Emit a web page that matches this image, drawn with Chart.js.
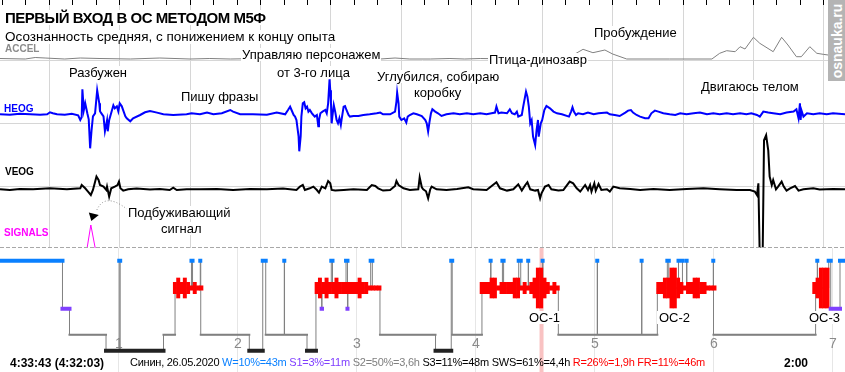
<!DOCTYPE html>
<html lang="ru">
<head>
<meta charset="UTF-8">
<title>Первый вход в ОС методом М5Ф</title>
<style>
    body { margin: 0; background: #fff; }
    #wrap { position: relative; width: 845px; height: 372px; overflow: hidden;
            font-family: Arial, "Liberation Sans", sans-serif; }
    canvas { position: absolute; left: 0; }
    #sig { top: 0; }
    #hyp { top: 248px; }
    .t { position: absolute; white-space: nowrap; font-size: 13px; line-height: 13px;
         color: #000; background: #fff; padding: 0 1px; }
    .title { font-size: 15px; line-height: 15px; font-weight: bold; letter-spacing: -0.5px; }
    .sub { font-size: 13.5px; line-height: 14px; }
    .ch { position: absolute; font-weight: bold; font-size: 10px; line-height: 10px; white-space: nowrap; }
    .foot { position: absolute; white-space: nowrap; font-size: 11px; line-height: 11px; letter-spacing: -0.25px; }
    .bold12 { font-size: 12px; line-height: 12px; font-weight: bold; letter-spacing: 0; }
    #badge { position: absolute; left: 828px; top: 0; width: 17px; height: 81px; background: #b4b4b4; }
    #badge span { position: absolute; left: 50%; top: 50%; transform: translate(-50%, -50%) rotate(-90deg);
                  color: #fff; font-weight: bold; font-size: 14px; line-height: 14px; white-space: nowrap; }
</style>
</head>
<body>

<div id="wrap">
    <canvas id="sig" width="845" height="248"></canvas>
    <canvas id="hyp" width="845" height="124"></canvas>

    <div class="t title" style="left:4px;top:10px">ПЕРВЫЙ ВХОД В ОС МЕТОДОМ М5Ф</div>
    <div class="t sub" style="left:4px;top:30px">Осознанность средняя, с понижением к концу опыта</div>

    <div class="ch" style="left:5px;top:44px;color:#8c8c8c">ACCEL</div>
    <div class="ch" style="left:4px;top:104px;color:#0000ff">HEOG</div>
    <div class="ch" style="left:5px;top:167px;color:#000">VEOG</div>
    <div class="ch" style="left:4px;top:228px;color:#ff00ff">SIGNALS</div>

    <div class="t" style="left:68px;top:66px">Разбужен</div>
    <div class="t" style="left:180px;top:90px">Пишу фразы</div>
    <div class="t" style="left:241px;top:48px">Управляю персонажем</div>
    <div class="t" style="left:276px;top:66px">от 3-го лица</div>
    <div class="t" style="left:376px;top:70px">Углубился, собираю</div>
    <div class="t" style="left:413px;top:86px">коробку</div>
    <div class="t" style="left:488px;top:53px">Птица-динозавр</div>
    <div class="t" style="left:593px;top:26px">Пробуждение</div>
    <div class="t" style="left:700px;top:80px">Двигаюсь телом</div>
    <div class="t" style="left:127px;top:206px">Подбуживающий</div>
    <div class="t" style="left:160px;top:222px">сигнал</div>

    <div class="t" style="left:527px;top:311px;padding:0 2px">ОС-1</div>
    <div class="t" style="left:657px;top:311px;padding:0 2px">ОС-2</div>
    <div class="t" style="left:807px;top:311px;padding:0 2px">ОС-3</div>

    <div class="foot bold12" style="left:10px;top:357px">4:33:43 (4:32:03)</div>
    <div class="foot" style="left:130px;top:357px">Синин, 26.05.2020 <span style="color:#0a80ff">W=10%=43m</span> <span style="color:#8040ff">S1=3%=11m</span> <span style="color:#808080">S2=50%=3,6h</span> S3=11%=48m SWS=61%=4,4h <span style="color:#ff0000">R=26%=1,9h FR=11%=46m</span></div>
    <div class="foot bold12" style="left:784px;top:357px">2:00</div>

    <div id="badge"><span>osnauka.ru</span></div>
</div>

<script src="https://cdn.jsdelivr.net/npm/chart.js"></script>
<script>
    // Upper panel: a 2 minute window of the record starting at 4:32:03
    const windowStart = [4, 32, 3];
    const windowLength = 120; // seconds

    // Channels as [seconds from window start, amplitude]
    const accel = [
        [0,0.5],[3.6,0],[5.0,1.5],[6.4,1],[9.2,0],[11.4,1],[14.2,0.5],[18.5,0],[22.7,1],[27.0,0],
        [29.8,0.5],[32.7,0],[36.9,0.5],[42.6,0],[48.3,0.5],[54.0,0],[56.1,1],[58.2,0],[61.1,0],[63.9,0.5],
        [66.0,0],[68.2,0.5],[73.8,0],[80.2,0],[81.4,4],[82.8,9.7],[84.2,6.3],[85.9,9],[87.0,5],[89.0,0],
        [95.1,0],[101.1,0],[102.2,5.7],[103.2,8.3],[104.4,7.3],[105.1,12.3],[105.8,10],[107.0,21.7],[107.9,15.7],[109.8,7.3],
        [111.0,21.7],[111.9,14],[113.1,2.3],[113.8,2.3],[115.0,12.3],[116.0,5.7],[116.9,4.7],[117.6,4],[120,4]
    ];

    const heog = [
        [0,0],[1.4,-0.5],[2.8,0.5],[4.3,0],[5.7,-0.5],[6.7,0],[7.1,2],[7.5,1],[8.1,0],[9.2,-0.5],
        [10.2,0.5],[11.1,-1],[11.4,-5.7],[11.6,-3],[11.7,25],[11.9,4],[12.1,11],[12.4,1],[12.6,-5],[12.8,-34],
        [13.0,-16],[13.2,-2],[13.5,1],[13.8,24],[14.1,11],[14.2,3],[14.4,1],[14.7,-2],[14.9,-17],[15.2,-6],
        [15.3,-17],[15.5,-6],[15.9,4],[16.1,9],[16.3,6],[16.6,8],[16.8,3],[17.0,11],[17.3,8],[17.5,4],
        [17.8,-2],[18.0,-4],[18.5,-7],[18.9,-4],[19.9,-0.7],[20.6,2],[21.3,3.3],[22.3,1.7],[23.2,0],[24.6,-0.7],
        [26.5,0],[27.2,1],[28.4,0],[29.4,1.7],[30.3,0],[31.5,1],[32.7,4.3],[33.1,2.7],[34.1,0],[35.9,0],
        [37.9,-0.5],[39.3,1.7],[40.5,0],[40.9,4.3],[41.2,7.7],[41.4,4.3],[41.7,-0.7],[41.9,-2.3],[42.1,-5.7],[42.4,-22],
        [42.5,-37],[42.7,-22],[42.8,-2.3],[43.0,11],[43.2,12],[43.4,6],[43.6,7.7],[43.8,2.7],[44.0,4.3],[44.3,1],
        [44.5,-0.7],[44.7,-2.3],[45.0,-0.7],[45.2,-12],[45.3,-5.7],[45.5,1],[45.8,2.7],[46.2,4.3],[46.4,1],[46.6,11],
        [46.8,35],[46.9,24],[47.0,11],[47.1,-9],[47.2,-2.3],[47.4,9.3],[47.6,2.7],[47.8,-5.7],[48.0,-9],[48.2,-4],
        [48.4,-10.7],[48.5,-5.7],[48.8,7.7],[49.0,8.3],[49.2,4.3],[49.5,-0.7],[49.7,-2.3],[50.2,-1.7],[50.9,-1.7],[51.6,-0.7],
        [52.5,0],[53.5,1],[54.0,1.7],[54.4,0],[55.4,0],[56.1,2.7],[56.3,12.7],[56.4,21.7],[56.6,11],[56.7,-2.3],
        [57.0,-5.7],[57.4,-4],[57.7,-8.3],[57.9,-2.3],[58.2,-0.7],[58.7,1],[59.2,0],[59.9,-1.7],[60.4,-5.7],[60.6,-9],
        [60.8,-17.3],[61.0,-7.3],[61.2,1],[61.4,5],[61.8,2.7],[62.2,1],[62.7,-1.7],[63.4,0],[64.4,1],[65.3,0],
        [66.3,1],[67.2,0],[68.2,1],[69.1,0],[69.8,1],[70.3,1.7],[70.5,7.7],[70.8,1],[71.2,1.7],[72.0,1],
        [72.4,5],[72.7,1],[73.1,0],[73.4,2.7],[73.6,-2.3],[74.1,-0.7],[74.3,7.7],[74.7,22.7],[74.9,17.7],[75.1,7.7],
        [75.3,-9],[75.5,-5.7],[75.7,-22.3],[76.0,-30.7],[76.2,-15.7],[76.4,-5.7],[76.5,-22.3],[76.8,-9],[77.0,-5.7],[77.3,4.3],
        [77.6,8.3],[78.1,6],[78.6,2.7],[79.1,1],[79.8,0],[80.8,-2.3],[81.1,2.7],[81.3,7],[81.5,2.7],[81.8,-0.7],
        [82.1,1],[82.8,0],[83.5,1.7],[84.3,0],[85.0,1],[86.2,1.7],[86.6,0],[87.3,-0.7],[88.0,-1.7],[88.8,1.7],
        [89.2,3.7],[89.6,4.3],[89.9,1.7],[90.4,-0.7],[90.9,-2.3],[91.6,-4],[92.1,-4],[92.5,1],[93.0,3.7],[93.5,2.7],
        [94.2,1],[95.1,0],[95.9,-0.7],[96.6,1],[97.5,0],[98.5,1],[99.4,1.7],[100.4,0],[101.3,1],[102.2,0],
        [103.2,1],[104.1,0],[105.1,1],[106.0,0],[106.7,1],[107.5,-0.7],[107.9,-2.3],[108.4,2.7],[109.1,1.7],[109.8,1],
        [110.8,0],[111.7,1.7],[112.7,2.7],[113.1,5],[113.4,-4],[113.6,11],[113.7,-5.7],[113.8,4.3],[114.1,-2.3],[114.6,1],
        [115.5,0],[116.4,1],[117.4,0],[118.3,1],[120,0]
    ];

    const veog = [
        [0,0],[1.4,-0.7],[2.8,0.3],[4.7,0],[7.1,1],[9.5,0],[11.4,1],[11.6,4.3],[12.1,1],[12.5,-2.3],
        [12.9,-5.7],[13.2,-0.7],[13.7,12.7],[14.0,9.3],[14.2,4.3],[14.7,2.7],[15.1,-0.7],[15.2,2.7],[15.5,-7.3],[15.8,1],
        [16.3,2.7],[16.7,4.3],[16.9,7.7],[17.1,1],[17.5,-1.3],[18.2,0],[19.4,0.7],[21.3,-0.3],[22.7,0.3],[24.1,-0.7],
        [24.6,1.7],[25.1,-0.7],[26.5,0],[28.4,0],[30.8,0.3],[33.1,-0.7],[35.5,0.3],[37.9,0],[40.2,0.7],[42.1,-0.7],
        [42.6,2.7],[43.0,4.3],[43.3,-0.7],[44.0,1],[44.5,2.7],[45.0,-0.7],[45.3,-3.3],[45.7,2.7],[46.2,1],[46.6,8.3],
        [46.9,6],[47.1,-0.7],[47.6,-1.3],[48.8,-0.7],[50.2,0],[52.1,-0.7],[52.8,4.3],[53.3,3.3],[53.7,1],[54.4,-1.3],
        [55.4,-0.7],[56.1,3.3],[56.3,8.3],[56.6,4.3],[57.3,1],[58.2,-0.7],[59.4,0],[59.6,12],[59.9,2],[60.1,0],
        [60.5,-2],[60.8,-9],[61.1,0],[61.3,2.7],[62.0,0],[63.4,-0.7],[64.9,0.3],[66.5,2],[67.2,0],[69.1,-0.7],
        [70.5,7],[71.0,1],[72.0,-1.3],[72.9,0],[73.6,5],[74.1,-1.3],[74.6,4.3],[74.9,7],[75.3,0],[76.0,-1.3],
        [76.4,-0.7],[76.7,-9],[76.9,-4],[77.4,2.7],[77.9,4.3],[78.3,0],[79.3,-1.3],[80.0,-0.7],[80.9,7.7],[81.4,6],
        [81.9,1],[82.4,-2.3],[83.1,4.3],[83.5,-0.7],[83.8,4.3],[84.0,-2.3],[84.4,6],[84.6,-1.3],[85.0,5.3],[85.4,-0.7],
        [86.2,0],[86.6,-2.3],[87.1,2.7],[88.0,1],[89.5,0.3],[90.9,-0.7],[92.8,0.3],[95.1,-0.7],[97.5,0.3],[99.9,1],
        [102.2,0],[104.6,-0.7],[106.5,-0.7],[107.2,-2.3],[107.5,-5.7],[107.7,6],[107.9,-70],[108.3,-70],[108.5,49],[108.8,54],
        [109.1,39],[109.3,12.7],[109.6,4.3],[109.8,9.3],[110.2,0],[110.5,2.7],[111.0,7.7],[111.3,2.7],[111.7,-1.3],[112.2,1],
        [112.9,3.3],[113.4,-1.3],[114.1,0],[115.5,1],[116.4,-0.3],[118.3,0.3],[120,0]
    ];

    const signals = [[0,0],[12.3,0],[12.9,26],[13.6,0],[120,0]];

    // Hypnogram: stage changes (hours from lights off) and the stage that starts there
    const stageStart = [
        0.000, 0.525, 0.584, 0.891, 1.002, 1.010, 1.374, 1.471, 1.609, 1.618,
        1.683, 1.687, 2.095, 2.208, 2.233, 2.389, 2.391, 2.580, 2.655, 2.703,
        2.706, 2.784, 2.794, 2.908, 2.920, 2.924, 3.115, 3.129, 3.193, 3.660,
        3.792, 3.800, 4.050, 4.123, 4.126, 4.222, 4.232, 4.359, 4.376, 4.439,
        4.441, 4.560, 4.562, 4.692, 5.019, 5.021, 5.392, 5.394, 5.524, 5.608,
        5.620, 5.702, 5.735, 5.770, 5.772, 5.994, 5.996, 6.854, 6.868, 6.870,
        6.964, 6.981, 7.059
    ];
    const stageCode = [
        'W','S1','S2','S3','W','S3','S2','R','W','R',
        'W','S2','S3','W','S2','W','S2','S3','R','S1',
        'R','W','R','W','S1','R','W','R','S2','S3',
        'W','S2','R','W','R','W','R','W','R','W',
        'R','W','R','S2','W','S2','W','S2','R','W',
        'R','W','R','W','R','W','S2','R','W','R',
        'W','S1','W'
    ];
    const recordEnd = 7.101;
    const hourTicks = [1, 2, 3, 4, 5, 6, 7];

    // Eye movement density during REM, one value per 1/36 h bin
    const remBin = 1 / 36;
    const remStart = [1.456, 2.647, 4.034, 5.518, 6.829];
    const remDensity = [
        [2,3,2,3,2,1,2,1,1],
        [2,3,2,3,2,2,3,2,2,2,2,2,2,3,2,2,1,1,1,1],
        [2,2,2,3,3,1,2,2,2,2,3,3,1,2,1,2,3,4,4,3,2,1,2,1],
        [2,2,3,3,4,4,3,2,1,2,2,3,3,2,2,1,1,1],
        [2,3,4,4,4]
    ];

    // ---- upper panel ----
    const secOfDay = windowStart[0] * 3600 + windowStart[1] * 60 + windowStart[2];
    const firstMajor = (10 - secOfDay % 10) % 10;
    const minorStep = 10 / 3;
    const secTicks = [];
    for (let t = firstMajor - Math.floor(firstMajor / minorStep) * minorStep; t <= windowLength + 1e-9; t += minorStep) {
        secTicks.push(t);
    }
    const isMajor = v => Math.abs((v - firstMajor) / 10 - Math.round((v - firstMajor) / 10)) < 1e-6;
    const gridColor = '#d6d6d6';

    // baseline of each channel inside the 248px panel (plot area 5..248)
    const chanAxis = base => ({ display: false, min: base - 248, max: base - 5 });

    const trace = (pts, color, width, axis) => ({
        data: pts.map(p => ({ x: p[0], y: p[1] })),
        borderColor: color,
        borderWidth: width,
        pointRadius: 0,
        tension: 0,
        fill: false,
        yAxisID: axis
    });

    const sigDecor = {
        id: 'sigDecor',
        afterDatasetsDraw(chart) {
            const { ctx, chartArea: a, scales } = chart;
            ctx.save();
            ctx.strokeStyle = '#a8a8a8';
            ctx.lineWidth = 1;
            ctx.setLineDash([4, 2]);
            ctx.beginPath();
            ctx.moveTo(a.left, a.bottom - 0.5);
            ctx.lineTo(a.right, a.bottom - 0.5);
            ctx.stroke();

            // dotted arrow pointing at the wake-up signal
            const peak = signals.reduce((m, p) => (p[1] > m[1] ? p : m));
            const sx = scales.x.getPixelForValue(peak[0]);
            const sy = scales.ySig.getPixelForValue(peak[1]);
            ctx.strokeStyle = '#8a8a8a';
            ctx.setLineDash([1, 2]);
            ctx.beginPath();
            ctx.moveTo(sx + 6, sy - 15);
            ctx.quadraticCurveTo(sx + 14, sy - 33, sx + 36, sy - 16);
            ctx.stroke();
            ctx.setLineDash([]);
            ctx.fillStyle = '#000';
            ctx.beginPath();
            ctx.moveTo(sx - 2, sy - 12.5);
            ctx.lineTo(sx + 8, sy - 10);
            ctx.lineTo(sx + 0.5, sy - 4);
            ctx.closePath();
            ctx.fill();
            ctx.restore();
        }
    };

    new Chart(document.getElementById('sig'), {
        type: 'line',
        data: {
            datasets: [
                trace(signals, '#ff00ff', 1, 'ySig'),
                trace(veog, '#000000', 2, 'yVeog'),
                trace(heog, '#0000ff', 2, 'yHeog'),
                trace(accel, '#808080', 1, 'yAccel')
            ]
        },
        options: {
            responsive: false,
            animation: false,
            devicePixelRatio: 1,
            events: [],
            layout: { padding: 0 },
            plugins: { legend: { display: false }, tooltip: { enabled: false } },
            scales: {
                x: {
                    type: 'linear',
                    position: 'top',
                    min: 0,
                    max: windowLength,
                    afterBuildTicks: s => { s.ticks = secTicks.map(v => ({ value: v })); },
                    ticks: { display: false },
                    grid: {
                        color: c => (c.tick && !isMajor(c.tick.value) ? 'rgba(0,0,0,0)' : gridColor),
                        tickColor: '#000',
                        tickLength: 5
                    },
                    border: { display: false }
                },
                yg: {
                    axis: 'y',
                    position: 'left',
                    reverse: true,
                    min: 0,
                    max: 243,
                    afterBuildTicks: s => { s.ticks = [55, 118, 181].map(v => ({ value: v })); },
                    ticks: { display: false },
                    grid: { color: gridColor, drawTicks: false },
                    border: { display: false }
                },
                yAccel: chanAxis(59),
                yHeog: chanAxis(114.3),
                yVeog: chanAxis(189.3),
                ySig: chanAxis(251)
            }
        },
        plugins: [sigDecor]
    });

    // ---- hypnogram ----
    const rowOf = { W: 0, R: 27.3, S1: 48, S2: 74, S3: 90 };
    const remHalf = [0, 2.2, 5.7, 10, 20];
    const windowStartH = secOfDay / 3600;
    const windowEndH = (secOfDay + windowLength) / 3600;

    const stepPoints = stageStart.map((h, i) => ({ x: h, y: rowOf[stageCode[i]] }));
    stepPoints.push({ x: recordEnd, y: rowOf[stageCode[stageCode.length - 1]] });

    function stageSegments(code) {
        const pts = [];
        stageCode.forEach((c, i) => {
            if (c !== code) return;
            const end = i + 1 < stageStart.length ? stageStart[i + 1] : recordEnd;
            pts.push({ x: stageStart[i], y: rowOf[c] }, { x: end, y: rowOf[c] }, { x: end, y: null });
        });
        return pts;
    }

    const remBars = [];
    remStart.forEach((h0, p) => {
        remDensity[p].forEach((d, i) => {
            remBars.push({ x: h0 + (i + 0.5) * remBin, y: [rowOf.R - remHalf[d], rowOf.R + remHalf[d]] });
        });
    });

    const stageLine = (code, color, width) => ({
        data: stageSegments(code),
        borderColor: color,
        borderWidth: width,
        borderCapStyle: 'square',
        pointRadius: 0,
        spanGaps: false,
        order: 1
    });

    const hypDecor = {
        id: 'hypDecor',
        beforeDatasetsDraw(chart) {
            const { ctx, chartArea: a, scales: { x } } = chart;
            ctx.save();
            const x0 = x.getPixelForValue(windowStartH);
            const x1 = x.getPixelForValue(windowEndH);
            ctx.fillStyle = 'rgba(240,110,110,0.42)';
            ctx.fillRect(x0, a.top, x1 - x0, a.bottom - a.top);
            ctx.fillStyle = '#8a8a8a';
            ctx.font = '14px Arial, "Liberation Sans", sans-serif';
            ctx.textAlign = 'center';
            ctx.textBaseline = 'middle';
            hourTicks.forEach(h => ctx.fillText(String(h), x.getPixelForValue(h), a.top + 96));
            ctx.restore();
        }
    };

    new Chart(document.getElementById('hyp'), {
        type: 'line',
        data: {
            datasets: [
                stageLine('W', '#0a80ff', 4),
                stageLine('S1', '#8040ff', 4),
                stageLine('S3', '#222222', 4),
                {
                    type: 'bar',
                    data: remBars,
                    backgroundColor: '#ff0000',
                    borderWidth: 0,
                    barPercentage: 1,
                    categoryPercentage: 1,
                    order: 2
                },
                stageLine('S2', '#808080', 2),
                {
                    data: stepPoints,
                    stepped: 'before',
                    borderColor: '#808080',
                    borderWidth: 1,
                    pointRadius: 0,
                    order: 4
                }
            ]
        },
        options: {
            responsive: false,
            animation: false,
            devicePixelRatio: 1,
            events: [],
            layout: { padding: 0 },
            plugins: { legend: { display: false }, tooltip: { enabled: false } },
            scales: {
                x: {
                    type: 'linear',
                    min: 0,
                    max: recordEnd,
                    offset: false,
                    afterBuildTicks: s => { s.ticks = hourTicks.map(v => ({ value: v })); },
                    ticks: { display: false },
                    grid: { color: '#e6e6e6', drawTicks: false, offset: false },
                    border: { display: false }
                },
                y: {
                    type: 'linear',
                    display: false,
                    reverse: true,
                    min: -12.7,
                    max: 111.3
                }
            }
        },
        plugins: [hypDecor]
    });
</script>

</body>
</html>
